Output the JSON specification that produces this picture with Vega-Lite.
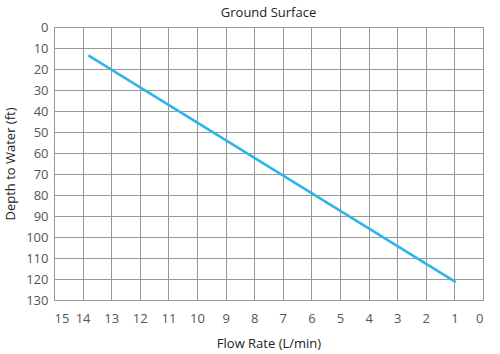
{
  "$schema": "https://vega.github.io/schema/vega-lite/v6.json",
  "autosize": "none",
  "width": 429,
  "height": 273,
  "padding": {"left": 54, "top": 27, "right": 17, "bottom": 54},
  "title": {"text": "Ground Surface", "fontSize": 13, "fontWeight": "normal", "font": "Open Sans", "color": "#222", "offset": 1},
  "data": {"values": [
    {"flow": 13.8, "depth": 13.5},
    {"flow": 0.95, "depth": 121.5}
  ]},
  "mark": {"type": "line", "color": "#2bb5e8", "strokeWidth": 2.5},
  "encoding": {
    "x": {"field": "flow", "type": "quantitative", "title": "Flow Rate (L/min)",
      "scale": {"domain": [15, 0], "nice": false},
      "axis": {"values": [15,14,13,12,11,10,9,8,7,6,5,4,3,2,1,0], "ticks": false, "domain": false, "labelPadding": 12, "titlePadding": 12}},
    "y": {"field": "depth", "type": "quantitative", "title": "Depth to Water (ft)",
      "scale": {"domain": [0, 130], "reverse": true, "nice": false},
      "axis": {"values": [0,10,20,30,40,50,60,70,80,90,100,110,120,130], "ticks": false, "domain": false, "labelPadding": 6, "titlePadding": 8}}
  },
  "config": {
    "view": {"stroke": "#999", "strokeWidth": 1},
    "axis": {"gridColor": "#999", "gridOpacity": 1, "gridWidth": 1, "labelFont": "Open Sans", "labelFontSize": 13, "labelColor": "#555", "titleFont": "Open Sans", "titleFontSize": 13, "titleFontWeight": "normal", "titleColor": "#222"}
  }
}
